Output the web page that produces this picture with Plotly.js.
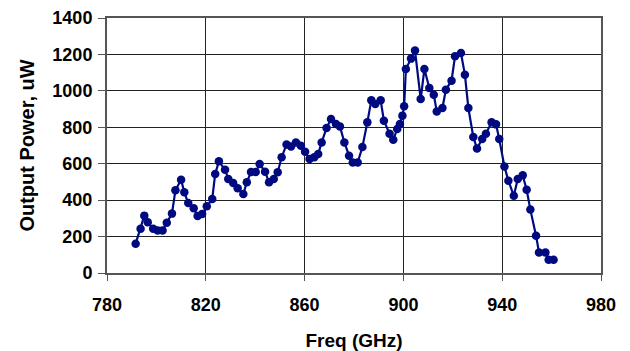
<!DOCTYPE html>
<html>
<head>
<meta charset="utf-8">
<script src="https://cdn.plot.ly/plotly-3.0.1.min.js"></script>
<style>html,body{margin:0;padding:0;background:#fff;}#chart{width:630px;height:351px;}</style>
</head>
<body>
<div id="chart"></div>
<script>
const freqGHz = [791.6,793.6,795.1,796.5,798.7,800.5,802.5,804.2,806.3,807.7,810,811.3,812.9,815.1,816.7,818.5,820.4,822.6,823.8,825.3,827.8,829.1,831.1,832.9,835.2,836.6,838.3,840.2,841.8,844,845.6,847.5,849.1,850.7,852.7,854.5,856.5,858.5,860.2,862,863.9,865.5,866.9,868.9,870.7,872.7,874.3,876.1,878,879.5,881.5,883.4,885.4,887,888.6,890.8,892.1,894.4,895.9,897.5,898.6,899.6,900.3,901,903.1,904.7,907,908.5,910.5,912.3,913.5,915.8,917.2,919.5,920.9,923.3,924.9,926.3,928.3,929.8,931.9,933.4,935.7,937.5,938.8,940.9,942.5,944.7,946.3,948.3,949.9,951.4,953.7,954.9,957.5,958.8,960.8];
const powerUW = [161,243,315,278,243,234,234,276,326,454,512,443,384,355,313,324,366,406,544,613,567,516,494,465,434,498,555,555,598,556,498,516,553,635,706,694,717,699,666,626,635,653,717,796,845,818,805,717,644,607,607,692,827,948,928,948,836,765,732,791,818,864,915,1120,1177,1221,955,1120,1016,979,887,906,1006,1056,1190,1208,1089,906,747,683,736,765,827,816,736,585,507,424,516,536,457,348,205,113,113,73,73];
const xTicks = [780,820,860,900,940,980];
const yTicks = [0,200,400,600,800,1000,1200,1400];

const fontFam = 'Liberation Sans, Arial, sans-serif';
const trace = {
  x: freqGHz, y: powerUW, type: 'scatter', mode: 'lines+markers',
  line: {color: '#000a80', width: 2.2},
  marker: {color: '#000a80', size: 8.5},
  showlegend: false
};
const layout = {
  width: 630, height: 351,
  margin: {l: 107, r: 29, t: 18, b: 78},
  paper_bgcolor: '#ffffff', plot_bgcolor: '#ffffff',
  font: {family: fontFam, color: '#000', size: 18, weight: 'bold'},
  xaxis: {
    range: [780, 980], tickmode: 'array', tickvals: xTicks, ticktext: xTicks.map(String),
    showgrid: true, gridcolor: '#222', gridwidth: 1,
    showline: true, linecolor: '#555', linewidth: 2, mirror: true,
    ticks: 'outside', ticklen: 6, tickcolor: '#555', tickwidth: 1,
    ticklabelstandoff: 8,
    tickfont: {family: fontFam, size: 18, weight: 'bold', color: '#000'},
    zeroline: false, fixedrange: true,
    title: {text: 'Freq (GHz)', standoff: 20, font: {family: fontFam, size: 19, weight: 'bold', color: '#000'}}
  },
  yaxis: {
    range: [0, 1400], tickmode: 'array', tickvals: yTicks, ticktext: yTicks.map(String),
    showgrid: true, gridcolor: '#222', gridwidth: 1,
    showline: true, linecolor: '#555', linewidth: 2, mirror: true,
    ticks: 'outside', ticklen: 7, tickcolor: '#555', tickwidth: 1,
    ticklabelstandoff: 2,
    tickfont: {family: fontFam, size: 18, weight: 'bold', color: '#000'},
    zeroline: false, fixedrange: true,
    title: {text: 'Output Power, uW', standoff: 12, font: {family: fontFam, size: 20, weight: 'bold', color: '#000'}}
  }
};
Plotly.newPlot('chart', [trace], layout, {staticPlot: true, displayModeBar: false});
</script>
</body>
</html>
